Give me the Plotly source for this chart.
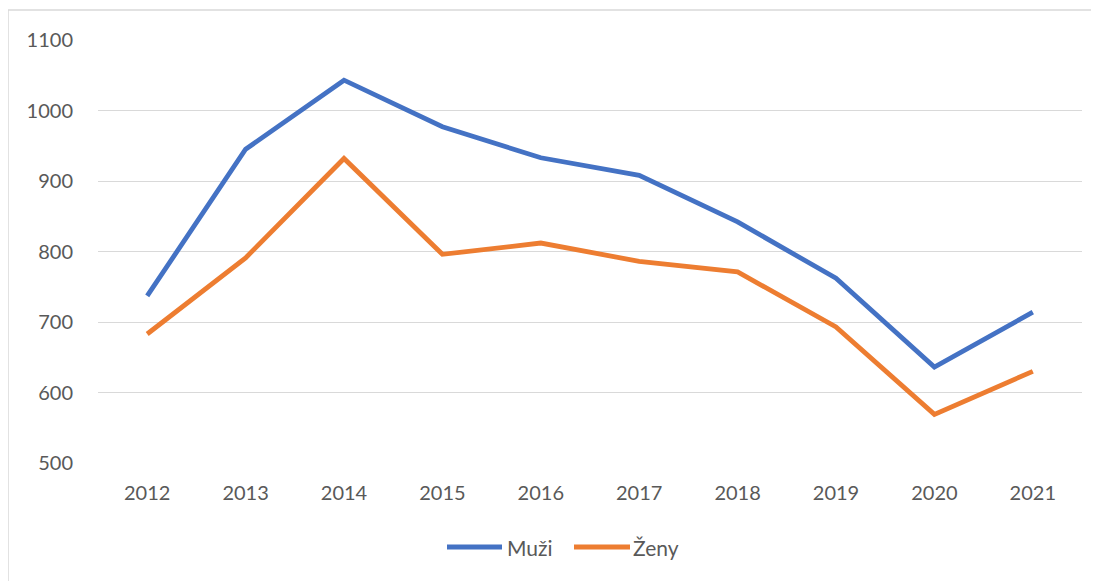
import plotly.graph_objects as go

years = ["2012", "2013", "2014", "2015", "2016", "2017", "2018", "2019", "2020", "2021"]
muzi = [737, 945, 1043, 977, 933, 908, 842, 762, 636, 714]
zeny = [683, 791, 932, 796, 812, 786, 771, 693, 569, 630]
y_ticks = [500, 600, 700, 800, 900, 1000, 1100]
series_names = ["Muži", "Ženy"]
colors = ["#4472C4", "#ED7D31"]

FONT = "Lato"
fig = go.Figure()
for name, vals, col in zip(series_names, [muzi, zeny], colors):
    fig.add_trace(go.Scatter(x=years, y=vals, name=name, mode="lines",
                             line=dict(color=col, width=4.8), showlegend=False))

# plot area in px: x 98..1082, y 40..463
def px_x(p):
    return (p - 98) / 984

def px_y(p):
    return (463 - p) / 423

shapes = [dict(type="rect", xref="paper", yref="paper",
               x0=px_x(8), x1=1.1, y0=-0.6, y1=px_y(10),
               line=dict(color="#d9d9d9", width=1.5), fillcolor="rgba(0,0,0,0)", layer="below")]
annotations = []
legend_pos = [(447, 502, 505), (574, 630, 631)]
for (lx0, lx1, tx), name, col in zip(legend_pos, series_names, colors):
    shapes.append(dict(type="line", xref="paper", yref="paper",
                       x0=px_x(lx0), x1=px_x(lx1), y0=px_y(547), y1=px_y(547),
                       line=dict(color=col, width=5)))
    annotations.append(dict(xref="paper", yref="paper", x=px_x(tx), y=px_y(547),
                            text=name, showarrow=False, xanchor="left", yanchor="middle",
                            font=dict(family=FONT, size=21, color="#595959")))

fig.update_layout(
    width=1091, height=573,
    margin=dict(l=90, r=17, t=32, b=118),
    paper_bgcolor="white", plot_bgcolor="white",
    font=dict(family=FONT, size=20, color="#595959"),
    showlegend=False,
    xaxis=dict(type="category", range=[-0.5, 9.5], showgrid=False, showline=False,
               ticks="", tickfont=dict(size=20), zeroline=False, ticklabelstandoff=16),
    yaxis=dict(range=[500, 1100], tickvals=y_ticks, showgrid=True, gridcolor="#d9d9d9",
               gridwidth=1.3, zeroline=False, showline=False, ticks="outside",
               ticklen=20, tickcolor="rgba(0,0,0,0)", tickfont=dict(size=20)),
    shapes=shapes,
    annotations=annotations,
)

fig.write_html("out.html")
